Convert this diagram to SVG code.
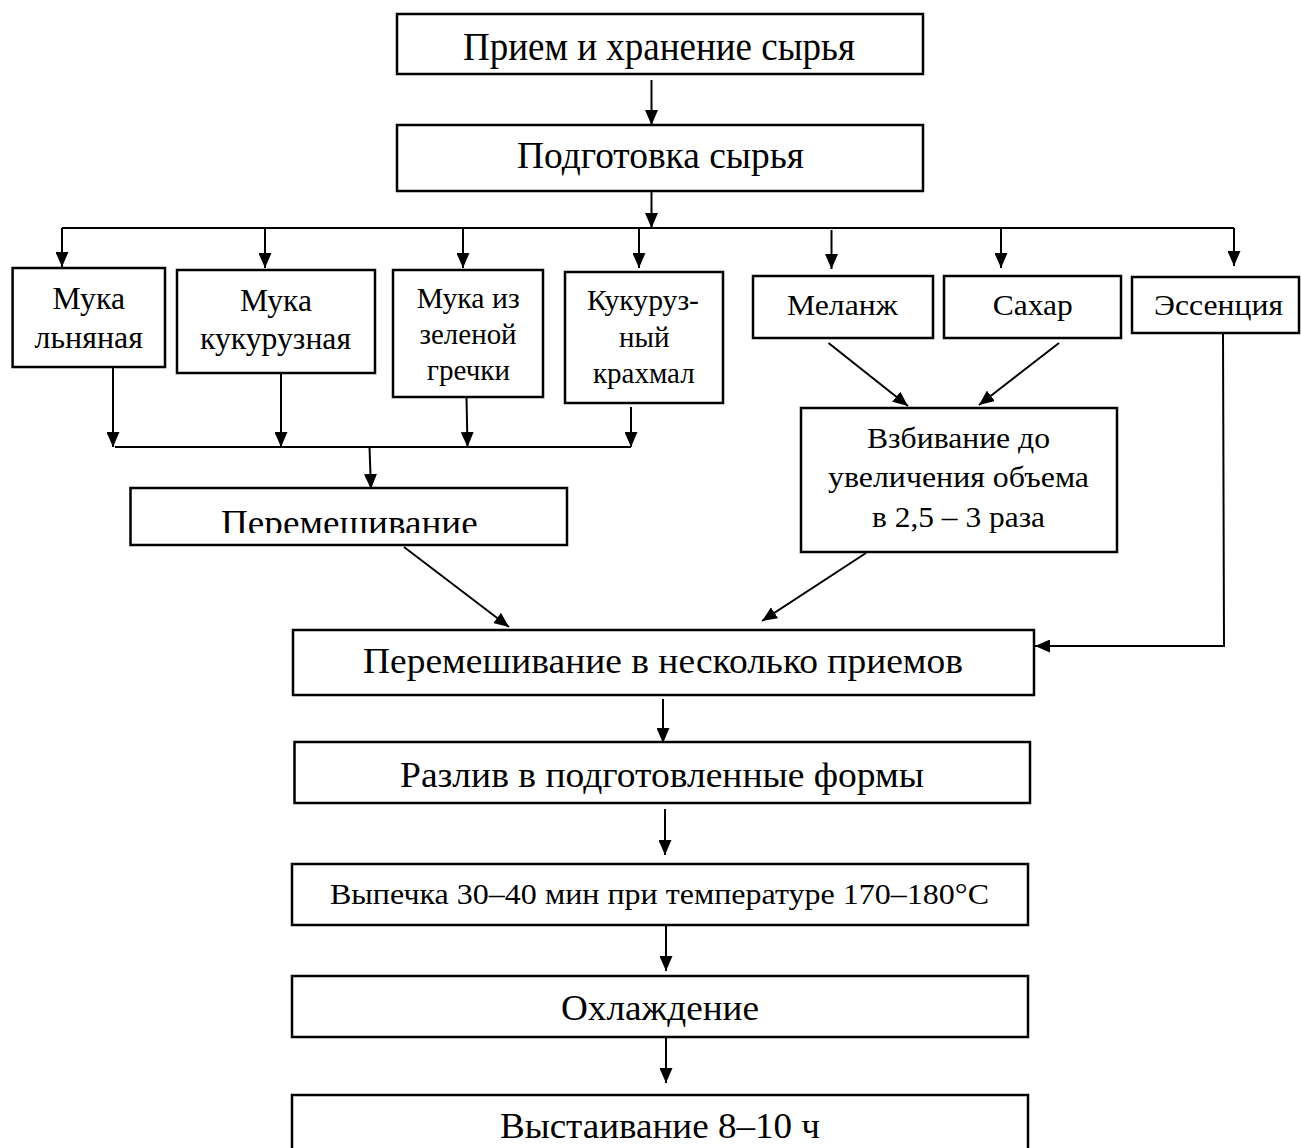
<svg xmlns="http://www.w3.org/2000/svg" width="1301" height="1148" viewBox="0 0 1301 1148">
<style>
.box{fill:#fff;stroke:#000;stroke-width:2.5}
.ln{fill:none;stroke:#000;stroke-width:2}
.t{font-family:"Liberation Serif","Times New Roman",serif;fill:#000}
</style>
<defs>
<marker id="ah" markerUnits="userSpaceOnUse" markerWidth="15" markerHeight="13" refX="15" refY="6.5" orient="auto">
<path d="M0,0 L15,6.5 L0,13 z" fill="#000"/>
</marker>
<clipPath id="clipMix"><rect x="132" y="490" width="433" height="43"/></clipPath>
</defs>
<rect width="1301" height="1148" fill="#fff"/>
<g id="connectors">
<line class="ln" x1="651.5" y1="80" x2="651.5" y2="125" marker-end="url(#ah)"/>
<line class="ln" x1="651.5" y1="191" x2="651.5" y2="228" marker-end="url(#ah)"/>
<line class="ln" x1="62" y1="228" x2="1234" y2="228"/>
<line class="ln" x1="62" y1="228" x2="62" y2="267" marker-end="url(#ah)"/>
<line class="ln" x1="265" y1="228" x2="265" y2="268" marker-end="url(#ah)"/>
<line class="ln" x1="463" y1="228" x2="463" y2="268" marker-end="url(#ah)"/>
<line class="ln" x1="639" y1="228" x2="639" y2="268" marker-end="url(#ah)"/>
<line class="ln" x1="831.5" y1="230" x2="831.5" y2="269" marker-end="url(#ah)"/>
<line class="ln" x1="1001" y1="229" x2="1001" y2="268" marker-end="url(#ah)"/>
<line class="ln" x1="1234" y1="228" x2="1234" y2="266" marker-end="url(#ah)"/>
<line class="ln" x1="113" y1="367" x2="113" y2="447" marker-end="url(#ah)"/>
<line class="ln" x1="281" y1="373" x2="281" y2="447" marker-end="url(#ah)"/>
<line class="ln" x1="466.5" y1="397" x2="467.5" y2="447" marker-end="url(#ah)"/>
<line class="ln" x1="631" y1="407" x2="631" y2="447" marker-end="url(#ah)"/>
<line class="ln" x1="115" y1="447" x2="631" y2="447"/>
<line class="ln" x1="369.5" y1="447" x2="371" y2="489" marker-end="url(#ah)"/>
<line class="ln" x1="828.5" y1="343" x2="908" y2="406" marker-end="url(#ah)"/>
<line class="ln" x1="1059" y1="343" x2="979" y2="405" marker-end="url(#ah)"/>
<line class="ln" x1="404" y1="547" x2="509" y2="627" marker-end="url(#ah)"/>
<line class="ln" x1="866" y1="553" x2="762" y2="621" marker-end="url(#ah)"/>
<polyline class="ln" points="1223,333 1224,646 1035,646" marker-end="url(#ah)"/>
<line class="ln" x1="663" y1="699" x2="663" y2="743" marker-end="url(#ah)"/>
<line class="ln" x1="665" y1="809" x2="665" y2="855" marker-end="url(#ah)"/>
<line class="ln" x1="666" y1="925" x2="666" y2="971" marker-end="url(#ah)"/>
<line class="ln" x1="666" y1="1037" x2="666" y2="1083" marker-end="url(#ah)"/>
</g>
<g id="n1"><rect class="box" x="397" y="14" width="526" height="60"/>
<text class="t" x="463" y="60" font-size="40" textLength="392" lengthAdjust="spacingAndGlyphs">Прием и хранение сырья</text></g>
<g id="n2"><rect class="box" x="397" y="125" width="526" height="66"/>
<text class="t" x="517" y="168" font-size="37" textLength="287" lengthAdjust="spacingAndGlyphs">Подготовка сырья</text></g>
<g id="n3"><rect class="box" x="12.6" y="268" width="152.4" height="99"/>
<text class="t" x="52.6" y="309" font-size="31" textLength="72.4" lengthAdjust="spacingAndGlyphs">Мука</text>
<text class="t" x="34.5" y="348" font-size="31" textLength="108.5" lengthAdjust="spacingAndGlyphs">льняная</text></g>
<g id="n4"><rect class="box" x="177" y="270" width="198" height="103"/>
<text class="t" x="240" y="310.7" font-size="31" textLength="72" lengthAdjust="spacingAndGlyphs">Мука</text>
<text class="t" x="200" y="349" font-size="31" textLength="151" lengthAdjust="spacingAndGlyphs">кукурузная</text></g>
<g id="n5"><rect class="box" x="393" y="270" width="150" height="127"/>
<text class="t" x="416.7" y="308" font-size="29" textLength="103" lengthAdjust="spacingAndGlyphs">Мука из</text>
<text class="t" x="419.6" y="344" font-size="29" textLength="97" lengthAdjust="spacingAndGlyphs">зеленой</text>
<text class="t" x="427" y="380" font-size="29" textLength="83" lengthAdjust="spacingAndGlyphs">гречки</text></g>
<g id="n6"><rect class="box" x="565" y="272" width="158" height="131"/>
<text class="t" x="587" y="310" font-size="29" textLength="112" lengthAdjust="spacingAndGlyphs">Кукуруз-</text>
<text class="t" x="619" y="346.7" font-size="29" textLength="50.5" lengthAdjust="spacingAndGlyphs">ный</text>
<text class="t" x="593" y="382.7" font-size="29" textLength="101.7" lengthAdjust="spacingAndGlyphs">крахмал</text></g>
<g id="n7"><rect class="box" x="753" y="276" width="180" height="62"/>
<text class="t" x="787" y="315" font-size="30" textLength="110.6" lengthAdjust="spacingAndGlyphs">Меланж</text></g>
<g id="n8"><rect class="box" x="944" y="276" width="177" height="62"/>
<text class="t" x="992.7" y="315" font-size="30" textLength="80" lengthAdjust="spacingAndGlyphs">Сахар</text></g>
<g id="n9"><rect class="box" x="1132" y="277" width="167" height="56"/>
<text class="t" x="1154" y="315" font-size="30" textLength="129" lengthAdjust="spacingAndGlyphs">Эссенция</text></g>
<g id="n10"><rect class="box" x="801" y="408" width="316" height="144"/>
<text class="t" x="867" y="448" font-size="30" textLength="183" lengthAdjust="spacingAndGlyphs">Взбивание до</text>
<text class="t" x="828" y="487" font-size="30" textLength="261" lengthAdjust="spacingAndGlyphs">увеличения объема</text>
<text class="t" x="872" y="527" font-size="30" textLength="173" lengthAdjust="spacingAndGlyphs">в 2,5 – 3 раза</text></g>
<g id="n11"><rect class="box" x="130.5" y="488" width="436.5" height="57"/>
<text class="t" x="221" y="535" font-size="36" textLength="256.7" lengthAdjust="spacingAndGlyphs" clip-path="url(#clipMix)">Перемешивание</text></g>
<g id="n12"><rect class="box" x="293" y="630" width="741" height="65"/>
<text class="t" x="363" y="673" font-size="35" textLength="600" lengthAdjust="spacingAndGlyphs">Перемешивание в несколько приемов</text></g>
<g id="n13"><rect class="box" x="294.5" y="742" width="735.5" height="61"/>
<text class="t" x="400" y="787" font-size="36" textLength="524" lengthAdjust="spacingAndGlyphs">Разлив в подготовленные формы</text></g>
<g id="n14"><rect class="box" x="292" y="864" width="736" height="61"/>
<text class="t" x="330" y="904" font-size="30" textLength="659" lengthAdjust="spacingAndGlyphs">Выпечка 30–40 мин при температуре 170–180°C</text></g>
<g id="n15"><rect class="box" x="292" y="976" width="736" height="61"/>
<text class="t" x="561" y="1020" font-size="35" textLength="198" lengthAdjust="spacingAndGlyphs">Охлаждение</text></g>
<g id="n16"><path class="box" d="M292,1152 V1095 H1028 V1152"/>
<text class="t" x="500" y="1138" font-size="35" textLength="320" lengthAdjust="spacingAndGlyphs">Выстаивание 8–10 ч</text></g>
</svg>
